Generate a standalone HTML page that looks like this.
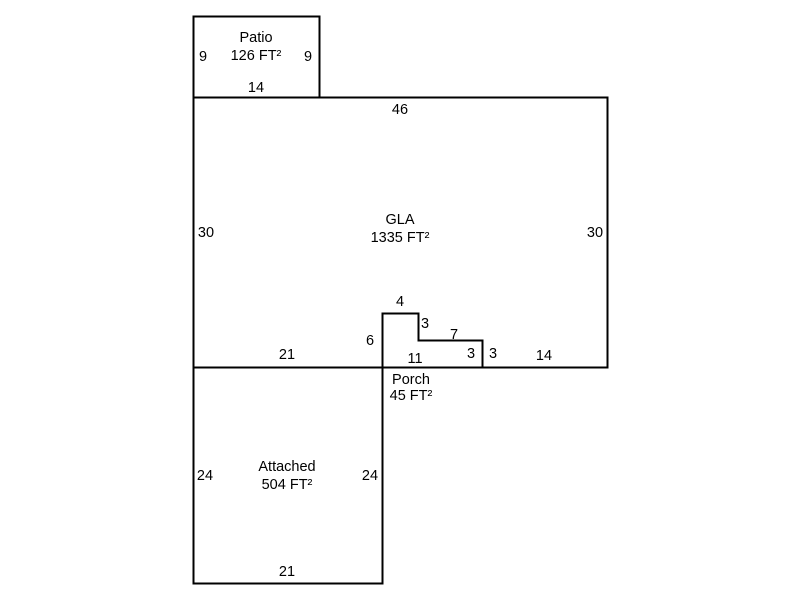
<!DOCTYPE html>
<html><head><style>
body{margin:0;background:#fff;}
svg text{font-family:"Liberation Sans",sans-serif;font-size:14.5px;fill:#000;text-anchor:middle;}
</style></head><body>
<svg width="800" height="600" viewBox="0 0 800 600" xmlns="http://www.w3.org/2000/svg">
<g fill="none" stroke="#000" stroke-width="2">
<rect x="193.5" y="16.5" width="126" height="81"/>
<rect x="193.5" y="97.5" width="414" height="270"/>
<rect x="193.5" y="367.5" width="189" height="216"/>
<polyline points="382.5,367.5 382.5,313.5 418.5,313.5 418.5,340.5 482.5,340.5 482.5,367.5"/>
</g>
<text x="256" y="42">Patio</text>
<text x="256" y="60">126 FT²</text>
<text x="203" y="61">9</text>
<text x="308" y="61">9</text>
<text x="256" y="92">14</text>
<text x="400" y="114">46</text>
<text x="400" y="224">GLA</text>
<text x="400" y="242">1335 FT²</text>
<text x="206" y="237">30</text>
<text x="595" y="237">30</text>
<text x="287" y="359">21</text>
<text x="370" y="345">6</text>
<text x="400" y="306">4</text>
<text x="425" y="328">3</text>
<text x="454" y="339">7</text>
<text x="471" y="358">3</text>
<text x="493" y="358">3</text>
<text x="544" y="360">14</text>
<text x="415" y="363">11</text>
<text x="411" y="384">Porch</text>
<text x="411" y="400">45 FT²</text>
<text x="287" y="471">Attached</text>
<text x="287" y="489">504 FT²</text>
<text x="205" y="480">24</text>
<text x="370" y="480">24</text>
<text x="287" y="576">21</text>
</svg>
</body></html>
